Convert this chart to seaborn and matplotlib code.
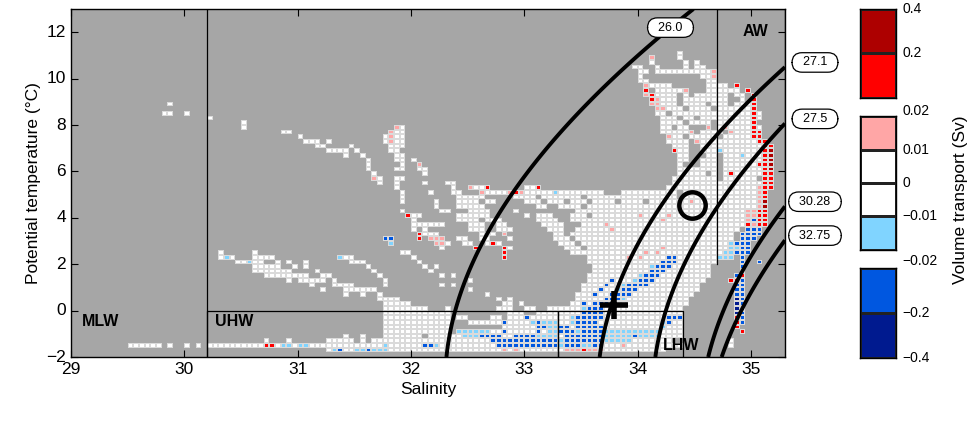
import numpy as np
import seaborn as sns
import matplotlib.pyplot as plt
from matplotlib.colors import ListedColormap
from matplotlib import transforms

# grid: salinity bins of 0.05 from 29.0, temperature bins of 0.2 from -2.0
s0, ds, ns = 29.0, 0.05, 126
t0, dt, nt = -2.0, 0.2, 75

# cell runs per temperature row (row index: column index runs)
white_rows = {
    65: "107", 64: "107", 63: "102 108 110", 62: "99-100 103 108 110-111",
    61: "100-101 103-112", 60: "100 111-112", 59: "100-101 112-113",
    58: "102-105 112-115", 57: "103-107 112-117", 56: "103-106 108 110-115 117-118",
    55: "104-106 108-115 118", 54: "17 104-106 108-111 113-115 117-119",
    53: "105-107 109-112 114-119", 52: "16-17 20 103-104 106-119 121",
    51: "24 104-106 108-109 111-119 121", 50: "30 104-107 109-112 114-119",
    49: "30 58 104-105 107-108 114 116-119 121", 48: "37-38 57-58 104-108 111-114 117-119",
    47: "40 55 57-58 106-107 109-113 115-119", 46: "41-43 45 55 57-58 105-108 111-120",
    45: "43-44 49 56-58 106-108 111-121", 44: "45-48 50 56-57 107-108 111-113 115-121",
    43: "48 51 57-58 107-108 112-113 115-117 119-121", 42: "52 57-58 60 107-108 111-113 115-121",
    41: "52 58 107 111-113 115-120", 40: "52 57-58 61-62 107-113 115-121",
    39: "53 62 107-111 113 115 117-121", 38: "54 57-58 106-113 115-120",
    37: "54 57 62 66-67 106-113 114-121", 36: "57 67 71-72 80-81 105-113 114-120",
    35: "58 63 67-68 73-76 80-84 86-93 97-106 108-120",
    34: "58 68-72 78-81 83-89 91-106 108-120",
    33: "58 64 68-71 73-74 80-82 84-86 88-90 92-95 97-100 102-108 110-120",
    32: "64 68-72 82-83 86-89 91-120", 31: "58 65-66 70-73 78 89-118",
    30: "60-61 68-73 80 82-84 88-90 92-118", 29: "60 68-71 73-75 82-85 88-118",
    28: "60-65 70-72 75-76 83-86 90-118", 27: "60 62 70-72 75-77 84-86 89-117",
    26: "62-64 72-74 85-86 88-116", 25: "68-69 72-73 77 85-87 89-116",
    24: "66 69-70 73 75 86-88 90-115", 23: "65 77 87-89 91-115",
    22: "26 32 58-59 88-114", 21: "26 28 32-35 48-49 60 91-113",
    20: "29-30 32-33 36 38 41 49-51 61 91-113", 19: "32-36 39 41 52 62 64 92-112",
    18: "32-38 43 53 63 92-112", 17: "34-41 44-45 54 65 67 91-112",
    16: "38 40-44 46 55 70 91-111", 15: "42 46-49 55 65 67 90-110",
    14: "44 48-53 70 90-110", 13: "48 51 54 73 89-109", 12: "54-57 75 77 89-108",
    11: "55-59 76-77 79 88-108", 10: "55-62 66 75-77 80-81 84-107",
    9: "55-66 77-79 82-107", 8: "55-66 68-69 74-75 77-79 81-107",
    7: "55-66 70-75 77-107", 6: "55-66 76-107", 5: "55-66 74-107",
    4: "48 51 55-61 63-68 76-107", 3: "34 38 45-49 51 53-73 86-105 116",
    2: "10-15 17 20 22 24-107 116", 1: "45 48-49 56-104",
}
pink_rows = {
    64: "102", 61: "113", 60: "113", 58: "101", 57: "108", 56: "101", 55: "103",
    54: "102-103", 53: "103-104", 49: "57 112 115", 48: "56 109 116", 47: "56 105",
    46: "56 110", 41: "61", 38: "53", 36: "70 121", 35: "72 77 79 121", 34: "121",
    33: "109 121", 32: "121", 31: "119-120", 30: "100 105 119-120", 29: "104 119",
    28: "94 120", 27: "95", 26: "76", 25: "63-65", 24: "64-65", 23: "104",
    22: "101 103", 21: "98 100", 2: "97", 1: "76 78 87-89 91-93",
}
red_rows = {
    58: "117", 57: "101 119", 56: "102 120", 55: "102 120", 54: "120", 53: "120",
    52: "120", 51: "120", 50: "120", 49: "120", 48: "120-121", 47: "120-121",
    46: "121-122", 45: "122-123", 44: "106 122-123", 43: "122-123", 42: "122-123",
    41: "121-123", 40: "122-123", 39: "116 122-123", 38: "122-123", 37: "122-123",
    36: "73 82 122-123", 35: "78 122", 34: "122", 33: "122", 32: "122",
    31: "121-122", 30: "59 121-122", 29: "121-122", 28: "119 121-122",
    26: "61", 25: "61", 24: "74", 23: "71 76", 22: "76", 21: "76",
    17: "118", 16: "116-117", 8: "117", 7: "117", 6: "117", 5: "118",
    2: "34-35", 1: "90",
}
dark_red_rows = {44: "123", 43: "123", 42: "123", 41: "123", 40: "123", 33: "122", 32: "122"}
light_blue_rows = {
    44: "114", 43: "118", 35: "85", 24: "56 116", 23: "116-117", 22: "115-116",
    21: "27 47 114-116", 20: "31", 19: "102", 17: "100", 16: "99", 15: "97",
    14: "96", 12: "97", 10: "90", 8: "88", 7: "81 83-85 88 104", 6: "84-85 104",
    5: "68-73 84-85 89 94-103", 4: "69-71 82-85 94-98 100-103", 3: "86 94-98",
    2: "37-38 40-41 55 64 86 90-91", 1: "46 50-51 53-55",
}
blue_rows = {
    29: "120", 27: "119-121", 26: "118-121", 25: "55-56 118-120", 24: "117-119",
    23: "118-119", 22: "117-119", 21: "105-106 118", 20: "104-106 118 121",
    19: "103-105 118", 18: "102-104 118", 17: "101-103 117", 16: "95 100-102 118",
    15: "94 98-101 117-118", 14: "93 97-99 117-118", 13: "92 95-98 117-118",
    12: "94-96 118", 11: "90 92-95 118", 10: "91-93", 9: "90-93 118",
    8: "80 89-93 105-107 118", 7: "76 82 89-92 105 118", 6: "82-83 86-87 89-93",
    5: "76 82 86-88 90-93", 4: "72-75 78-81 87-93 99", 3: "74-85 87-93",
    2: "62-63 75-85 87-89 92-93", 1: "47 52",
}
dark_blue_rows = {12: "117", 11: "117", 10: "117-118", 9: "117"}

layers = [white_rows, pink_rows, red_rows, dark_red_rows, light_blue_rows, blue_rows, dark_blue_rows]
cell_colors = ["#ffffff", "#ffa6a6", "#ff0000", "#ad0000", "#80d4ff", "#0057e0", "#001a8f"]
empty_color = "#a6a6a6"

# isopycnals: level and reference pressure (dbar)
iso_levels = [26.0, 27.1, 27.5, 30.28, 32.75]
iso_pref = [0, 0, 0, 500, 1000]

# water masses: name, salinity range, temperature range
water_masses = [("UHW", 30.2, 33.3, -2, 0), ("LHW", 33.3, 34.4, -2, 0), ("AW", 34.7, 35.3, 2, 13)]
circle_st = (34.48, 4.55)
plus_st = (33.79, 0.24)

cb_labels = ["0.4", "0.2", "0.02", "0.01", "0", "\u22120.01", "\u22120.02", "\u22120.2", "\u22120.4"]


def sigma(S, T, pd):
    p = pd / 10.0
    rw = (999.842594 + 6.793952e-2*T - 9.095290e-3*T**2 + 1.001685e-4*T**3
          - 1.120083e-6*T**4 + 6.536332e-9*T**5)
    r0 = (rw + S*(0.824493 - 4.0899e-3*T + 7.6438e-5*T**2 - 8.2467e-7*T**3 + 5.3875e-9*T**4)
          + S**1.5*(-5.72466e-3 + 1.0227e-4*T - 1.6546e-6*T**2) + 4.8314e-4*S**2)
    kw = 19652.21 + 148.4206*T - 2.327105*T**2 + 1.360477e-2*T**3 - 5.155288e-5*T**4
    aw = 3.239908 + 1.43713e-3*T + 1.16092e-4*T**2 - 5.77905e-7*T**3
    bw = 8.50935e-5 - 6.12293e-6*T + 5.2787e-8*T**2
    k0 = (kw + S*(54.6746 - 0.603459*T + 1.09987e-2*T**2 - 6.1670e-5*T**3)
          + S**1.5*(7.944e-2 + 1.6483e-2*T - 5.3009e-4*T**2))
    a = aw + S*(2.2838e-3 - 1.0981e-5*T - 1.6078e-6*T**2) + 1.91075e-4*S**1.5
    b = bw + S*(-9.9348e-7 + 2.0816e-8*T + 9.1697e-10*T**2)
    k = k0 + a*p + b*p**2
    return r0 / (1 - p/k) - 1000


def bisect(f, lo, hi):
    for _ in range(60):
        mid = 0.5*(lo + hi)
        if np.sign(f(mid)) == np.sign(f(lo)):
            lo = mid
        else:
            hi = mid
    return 0.5*(lo + hi)


def sx(s): return (s - s0) / ds
def ty(t): return (t - t0) / dt


# empty bins get their own (background) category so cell edges blend into the grey
grid = np.full((nt, ns), float(len(layers)))
for code, rows in enumerate(layers):
    for j, spec in rows.items():
        for tok in spec.split():
            a, _, b = tok.partition('-')
            grid[j, int(a):int(b or a) + 1] = code

plt.rcParams['font.family'] = ['Liberation Sans', 'DejaVu Sans']
cmap = ListedColormap(cell_colors + [empty_color])

fig = plt.figure(figsize=(9.71, 4.22), dpi=100)
ax = fig.add_axes([0.0731, 0.154, 0.7353, 0.8246])
sns.heatmap(grid, cmap=cmap, vmin=-0.5, vmax=7.5, cbar=False,
            linewidths=0.2, linecolor='#dadada', ax=ax)
ax.invert_yaxis()
# repaint empty bins flat grey on top of the edge lines
sns.heatmap(np.where(grid == len(layers), 0.0, np.nan), mask=grid != len(layers),
            cmap=ListedColormap([empty_color]), cbar=False, linewidths=0, ax=ax)
ax.set_xlim(0, ns)
ax.set_ylim(0, nt)

X, Y = np.meshgrid(np.linspace(0, ns, 500), np.linspace(0, nt, 400))
for lev, pref in zip(iso_levels, iso_pref):
    ax.contour(X, Y, sigma(s0 + ds*X, t0 + dt*Y, pref), levels=[lev], colors='k', linewidths=2.8, zorder=4)

box = dict(boxstyle='round,pad=0.3,rounding_size=0.8', fc='white', ec='k', lw=0.9)
s_top = bisect(lambda s: sigma(s, 12.2, 0) - iso_levels[0], 30, 36)
ax.text(sx(s_top), ty(12.2), "  %.1f  " % iso_levels[0], ha='center', va='center', fontsize=9, bbox=box, zorder=6)
for lev, pref in zip(iso_levels[1:], iso_pref[1:]):
    t_edge = bisect(lambda t: sigma(35.3, t, pref) - lev, -2, 20)
    txt = ("%.1f" % lev) if pref == 0 else ("%.2f" % lev)
    ax.text(sx(35.3) + 5.3, ty(t_edge + 0.2), "  " + txt + "  ", ha='center', va='center',
            fontsize=9, bbox=box, clip_on=False, zorder=6)

ax.plot([sx(30.2), sx(30.2)], [0, nt], color='k', lw=0.9, zorder=5)
for name, sa, sb, ta, tb in water_masses:
    ax.plot([sx(sa), sx(sa), sx(sb), sx(sb)], [ty(ta), ty(tb), ty(tb), ty(ta)], color='k', lw=0.9, zorder=5)
bold = dict(fontsize=11.5, fontweight='bold', va='center', zorder=6)
ax.text(sx(29.1), ty(-0.47), "MLW", **bold)
ax.text(sx(30.27), ty(-0.47), "UHW", **bold)
ax.text(sx(34.22), ty(-1.5), "LHW", **bold)
ax.text(sx(34.93), ty(12.05), "AW", **bold)

ax.plot(sx(circle_st[0]), ty(circle_st[1]), marker='o', ms=19, mfc='none', mec='k', mew=3.2, zorder=7)
ax.plot(sx(plus_st[0]), ty(plus_st[1]), marker='+', ms=20, mec='k', mew=4, zorder=7)

ax.set_xticks([sx(s) for s in range(29, 36)])
ax.set_xticklabels([str(s) for s in range(29, 36)], rotation=0)
ax.set_yticks([ty(t) for t in range(-2, 13, 2)])
ax.set_yticklabels([str(t).replace('-', '\u2212') for t in range(-2, 13, 2)], rotation=0)
ax.tick_params(direction='in', length=5, width=0.8, top=True, right=True, labelsize=12.5, colors='k')
for sp in ax.spines.values():
    sp.set_visible(True)
    sp.set_linewidth(1.0)
    sp.set_color('k')
ax.set_xlabel("Salinity", fontsize=12.5)
ax.set_ylabel("Potential temperature (\u00b0C)", fontsize=12.5)

blocks = [([[3], [2]], [0.7678, 0.2109], [(0, 0), (1, 1)]),
          ([[1], [0], [0], [4]], [0.4076, 0.3175], [(2, -0.15), (3, 1), (4, 2), (5, 3), (6, 4.33)]),
          ([[5], [6]], [0.1517, 0.2133], [(7, 1), (8, 2)])]
for vals, (bot, h), labs in blocks:
    cax = fig.add_axes([0.8857, bot, 0.0371, h])
    sns.heatmap(np.array(vals, dtype=float), cmap=cmap, vmin=-0.5, vmax=7.5, cbar=False,
                linewidths=0.8, linecolor='#222222', xticklabels=False, yticklabels=False, ax=cax)
    for sp in cax.spines.values():
        sp.set_visible(True)
        sp.set_linewidth(1.0)
        sp.set_color('k')
    tr = transforms.blended_transform_factory(cax.transAxes, cax.transData)
    for k, row in labs:
        cax.text(1.17, row, cb_labels[k], transform=tr, ha='left', va='center', fontsize=10, clip_on=False)
fig.text(0.989, 0.526, "Volume transport (Sv)", rotation=90, ha='center', va='center', fontsize=12.5)

fig.savefig("out.png", dpi=100)
